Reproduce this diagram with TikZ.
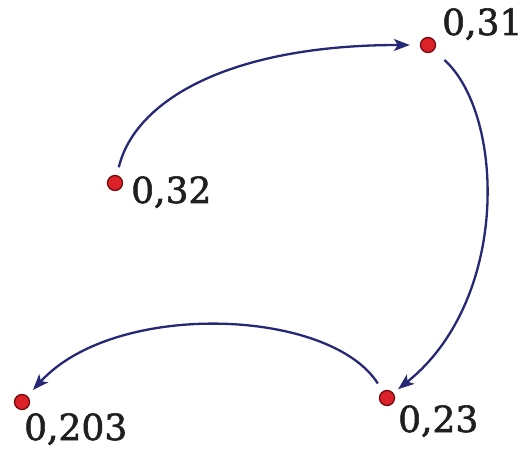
\documentclass[tikz,border=0pt]{standalone}
\usepackage{fontspec}
\setmainfont{DejaVu Serif}[FakeBold=1.6]
\usetikzlibrary{arrows.meta}
\definecolor{dotred}{RGB}{218,34,40}
\definecolor{dotedge}{RGB}{120,10,15}
\definecolor{navy}{RGB}{38,40,118}
\tikzset{
  dot/.style={circle, minimum size=15pt, inner sep=0pt, fill=dotred, draw=dotedge, line width=1.3pt},
  lbl/.style={inner sep=0pt, anchor=base west, font=\fontsize{36}{40}\selectfont, text=black!88},
  link/.style={navy, line width=2.3pt, -{Stealth[length=16pt,width=12pt,inset=4pt]}}
}
\begin{document}
\begin{tikzpicture}[x=1pt,y=-1pt]
\useasboundingbox (0,0) rectangle (527,449);
\fill[white] (0,0) rectangle (527,449);
\node[dot] (A) at (115,183) {};
\node[dot] (B) at (428,45) {};
\node[dot] (C) at (387,398) {};
\node[dot] (D) at (22,402) {};
\node[lbl] (la) at (131,203) {0,32};
\node[lbl] (lb) at (442,35) {0,31};
\node[lbl] (lc) at (398,432) {0,23};
\node[lbl] (ld) at (24,440) {0,203};
\draw[link, shorten <=8pt, shorten >=10pt] (A) .. controls (135,100) and (230,45) .. (B);
\draw[link, shorten <=14pt, shorten >=6pt] (B) .. controls (505,115) and (510,300) .. (C);
\draw[link, shorten <=9pt, shorten >=8pt] (C) .. controls (330,308) and (115,300) .. (D);
\end{tikzpicture}
\end{document}
